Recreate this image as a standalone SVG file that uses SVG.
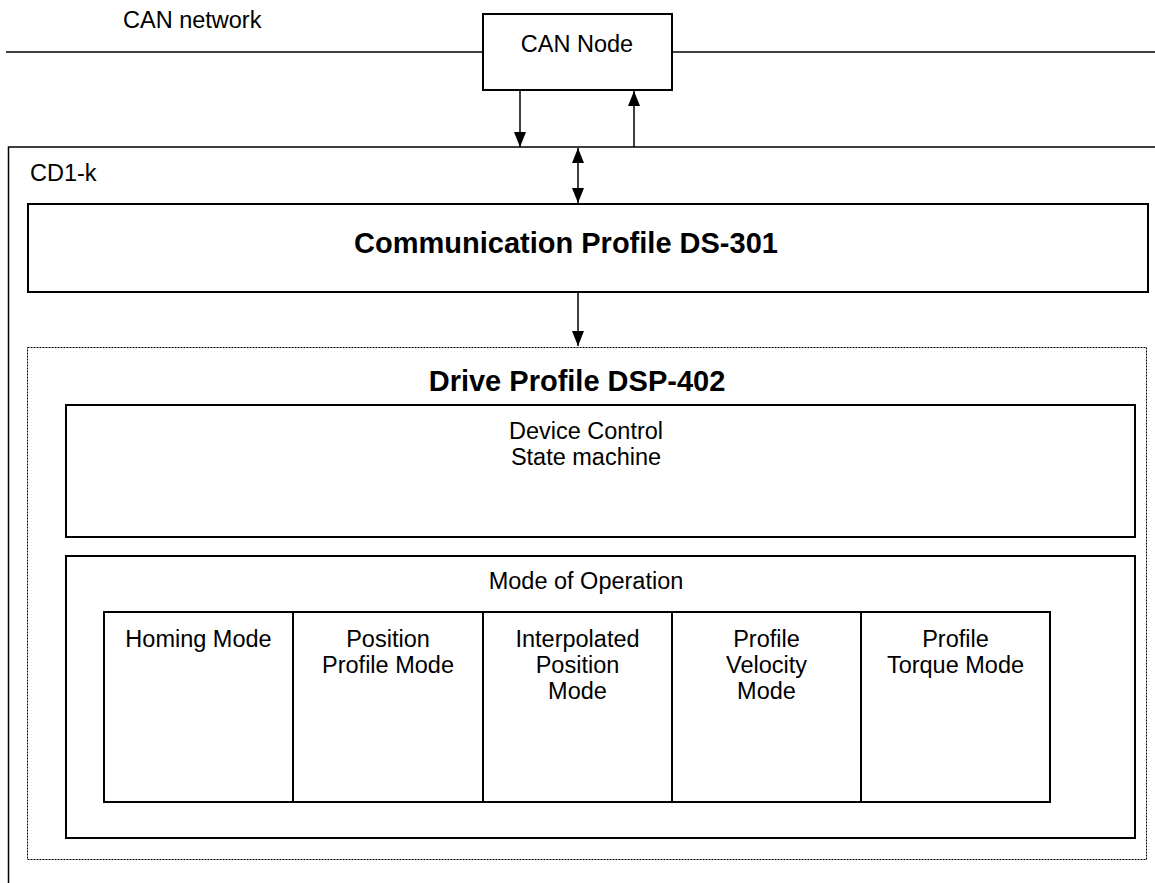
<svg xmlns="http://www.w3.org/2000/svg" width="1155" height="883" viewBox="0 0 1155 883">
<style>
  text { font-family: "Liberation Sans", Arial, sans-serif; fill: #000; }
  .t { font-size: 23.5px; text-anchor: middle; }
  .tl { font-size: 23.5px; }
  .b { font-size: 29px; font-weight: bold; text-anchor: middle; }
  .box { fill: #fff; stroke: #000; stroke-width: 2; }
  .thin { fill: none; stroke: #000; stroke-width: 1.5; }
  .dot { fill: none; stroke: #000; stroke-width: 1; stroke-dasharray: 2 1; }
  .conn { stroke: #000; stroke-width: 1.5; fill: none; }
</style>
<defs>
  <marker id="ah" markerUnits="userSpaceOnUse" markerWidth="15" markerHeight="12" refX="15" refY="6" orient="auto">
    <path d="M0,0 L15,6 L0,12 z" fill="#000"/>
  </marker>
  <marker id="ahs" markerUnits="userSpaceOnUse" markerWidth="15" markerHeight="12" refX="0" refY="6" orient="auto">
    <path d="M15,0 L0,6 L15,12 z" fill="#000"/>
  </marker>
</defs>
<rect width="1155" height="883" fill="#fff"/>

<g id="can-network">
  <line x1="6" y1="52" x2="483" y2="52" class="conn"/>
  <line x1="672" y1="52" x2="1155" y2="52" class="conn"/>
  <text class="tl" x="123" y="28">CAN network</text>
</g>

<g id="cd1k">
  <path d="M1160,147 L8.5,147 L8.5,890" class="thin"/>
  <text class="tl" x="30" y="181">CD1-k</text>
</g>

<g id="can-node">
  <rect x="483" y="14" width="189" height="76" class="box"/>
  <text class="t" x="577" y="52">CAN Node</text>
</g>

<g id="comm-profile">
  <rect x="28" y="204" width="1120" height="88" class="box"/>
  <text class="b" x="566" y="253">Communication Profile DS-301</text>
</g>

<g id="drive-profile">
  <rect x="27.5" y="347.5" width="1119" height="512" class="dot"/>
  <text class="b" x="577" y="391">Drive Profile DSP-402</text>
</g>

<g id="device-control">
  <rect x="66" y="405" width="1069" height="132" class="box"/>
  <text class="t" x="586" y="439">Device Control</text>
  <text class="t" x="586" y="465">State machine</text>
</g>

<g id="mode-of-operation">
  <rect x="66" y="556" width="1069" height="282" class="box"/>
  <text class="t" x="586" y="589">Mode of Operation</text>
</g>

<g id="homing-mode">
  <rect x="104" y="612" width="189" height="190" class="box"/>
  <text class="t" x="198.5" y="647">Homing Mode</text>
</g>
<g id="position-profile-mode">
  <rect x="293" y="612" width="190" height="190" class="box"/>
  <text class="t" x="388" y="647">Position</text>
  <text class="t" x="388" y="673">Profile Mode</text>
</g>
<g id="interpolated-position-mode">
  <rect x="483" y="612" width="189" height="190" class="box"/>
  <text class="t" x="577.5" y="647">Interpolated</text>
  <text class="t" x="577.5" y="673">Position</text>
  <text class="t" x="577.5" y="699">Mode</text>
</g>
<g id="profile-velocity-mode">
  <rect x="672" y="612" width="189" height="190" class="box"/>
  <text class="t" x="766.5" y="647">Profile</text>
  <text class="t" x="766.5" y="673">Velocity</text>
  <text class="t" x="766.5" y="699">Mode</text>
</g>
<g id="profile-torque-mode">
  <rect x="861" y="612" width="189" height="190" class="box"/>
  <text class="t" x="955.5" y="647">Profile</text>
  <text class="t" x="955.5" y="673">Torque Mode</text>
</g>

<g id="connectors">
  <line x1="520" y1="91" x2="520" y2="147" class="conn" marker-end="url(#ah)"/>
  <line x1="634" y1="147" x2="634" y2="91" class="conn" marker-end="url(#ah)"/>
  <line x1="578" y1="148" x2="578" y2="203" class="conn" marker-start="url(#ahs)" marker-end="url(#ah)"/>
  <line x1="578" y1="293" x2="578" y2="346" class="conn" marker-end="url(#ah)"/>
</g>
</svg>
